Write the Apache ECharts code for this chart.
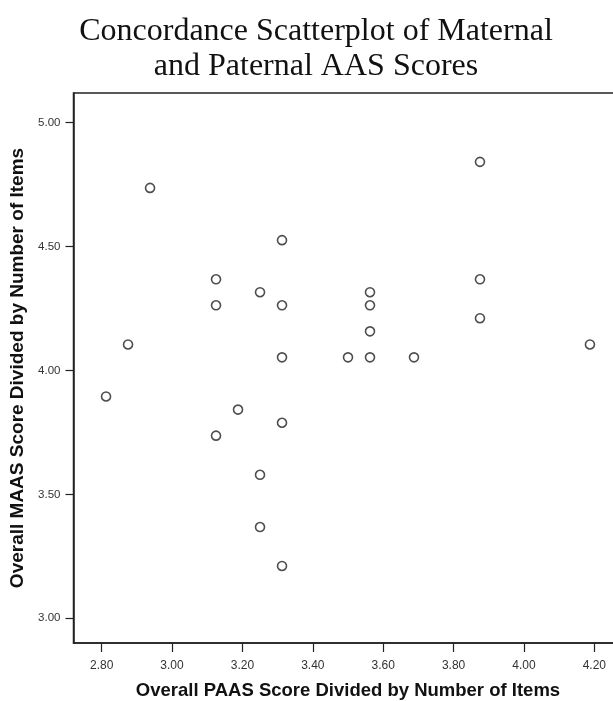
<!DOCTYPE html>
<html>
<head>
<meta charset="utf-8">
<script src="https://cdn.jsdelivr.net/npm/echarts@6/dist/echarts.min.js"></script>
<style>
html,body{margin:0;padding:0;background:#fff;}
#chart{width:613px;height:701px;}
</style>
</head>
<body>
<div id="chart"></div>
<script>
// Overall PAAS score (x) and overall MAAS score (y), one entry per pair
var paasScores = [3.875, 2.9375, 3.3125, 3.125, 3.875, 3.25, 3.5625, 3.125, 3.3125, 3.5625,
                  3.875, 3.5625, 2.875, 4.1875, 3.3125, 3.5, 3.5625, 3.6875, 2.8125, 3.1875,
                  3.3125, 3.125, 3.25, 3.25, 3.3125];
var maasScores = [4.842, 4.737, 4.526, 4.368, 4.368, 4.316, 4.316, 4.263, 4.263, 4.263,
                  4.211, 4.158, 4.105, 4.105, 4.053, 4.053, 4.053, 4.053, 3.895, 3.842,
                  3.789, 3.737, 3.579, 3.368, 3.211];
var xTicks = [2.8, 3.0, 3.2, 3.4, 3.6, 3.8, 4.0, 4.2];
var yTicks = [3.0, 3.5, 4.0, 4.5, 5.0];

var titleText = 'Concordance Scatterplot of Maternal\nand Paternal AAS Scores';
var xName = 'Overall PAAS Score Divided by Number of Items';
var yName = 'Overall MAAS Score Divided by Number of Items';

var points = paasScores.map(function (x, i) { return [x, maasScores[i]]; });

var chart = echarts.init(document.getElementById('chart'), null, {renderer: 'canvas'});
chart.setOption({
  backgroundColor: '#fff',
  animation: false,
  title: {
    text: titleText,
    left: 311,
    textAlign: 'center',
    top: 9,
    textStyle: {
      fontFamily: 'Liberation Serif',
      fontWeight: 'normal',
      fontSize: 32,
      lineHeight: 35,
      color: '#111'
    }
  },
  grid: {
    left: 73.5,
    width: 549,
    top: 93,
    height: 550,
    show: true,
    borderColor: '#222',
    borderWidth: 1.5,
    containLabel: false,
    outerBoundsMode: 'none'
  },
  xAxis: {
    type: 'value',
    min: 2.72,
    max: 4.28,
    name: xName,
    nameLocation: 'middle',
    nameGap: 38,
    nameTextStyle: {fontFamily: 'Liberation Sans', fontWeight: 'bold', fontSize: 18.5, color: '#111'},
    axisLine: {show: true, onZero: false, lineStyle: {color: '#222', width: 1.5}},
    axisTick: {show: true, length: 9, customValues: xTicks, lineStyle: {color: '#222', width: 1.2}},
    axisLabel: {
      customValues: xTicks,
      margin: 17,
      fontFamily: 'Liberation Sans',
      fontSize: 12,
      color: '#333',
      formatter: function (v) { return v.toFixed(2); }
    },
    splitLine: {show: false}
  },
  yAxis: {
    type: 'value',
    min: 2.90,
    max: 5.12,
    name: yName,
    nameLocation: 'middle',
    nameGap: 46,
    nameTextStyle: {fontFamily: 'Liberation Sans', fontWeight: 'bold', fontSize: 19, color: '#111'},
    axisLine: {show: true, onZero: false, lineStyle: {color: '#222', width: 1.5}},
    axisTick: {show: true, length: 8, customValues: yTicks, lineStyle: {color: '#222', width: 1.2}},
    axisLabel: {
      customValues: yTicks,
      margin: 13,
      fontFamily: 'Liberation Sans',
      fontSize: 11.5,
      color: '#333',
      formatter: function (v) { return v.toFixed(2); }
    },
    splitLine: {show: false}
  },
  series: [{
    type: 'scatter',
    data: points,
    symbol: 'circle',
    symbolSize: 9,
    itemStyle: {color: '#fff', borderColor: '#222', borderWidth: 1.6},
    emphasis: {disabled: true}
  }]
});
</script>
</body>
</html>
